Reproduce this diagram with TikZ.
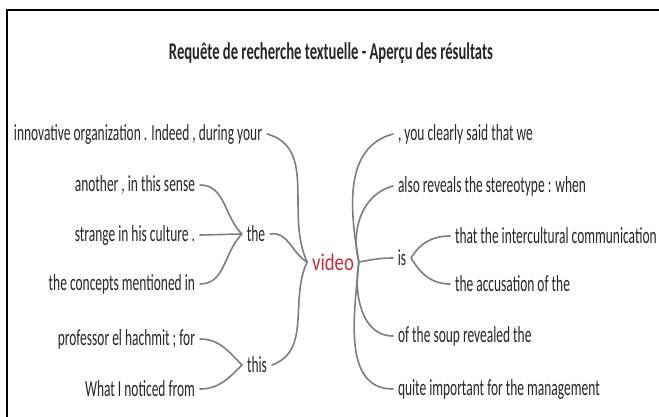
\documentclass[tikz,border=0pt]{standalone}
\usepackage{fontspec}
\setmainfont{Carlito}[FakeStretch=0.585]
\usepackage{tikz}
\usetikzlibrary{positioning}
\definecolor{hitred}{RGB}{200,45,60}
\definecolor{branchgray}{RGB}{125,125,125}
\tikzstyle{word} = [inner sep=0pt, outer sep=5pt,
    font=\fontsize{23}{25}\selectfont, text=black!85]
\tikzstyle{lword} = [word, anchor=east]
\tikzstyle{rword} = [word, anchor=west]
\tikzstyle{branch} = [draw=branchgray, line width=1.6pt, line cap=round]

\begin{document}
\begin{tikzpicture}[x=1pt, y=-1pt]
\useasboundingbox (0,0) rectangle (659,417);
\draw [line width=1.6pt] (7,417) -- (7,10) -- (659,10);

\node [word, font=\fontsize{24}{26}\selectfont\bfseries\addfontfeature{FakeStretch=0.61}] at (331,53) (title) {Requête de recherche textuelle - Aperçu des résultats};

% left side
\node [lword] at (267,134) (during) {innovative organization . Indeed , during your};
\node [lword] at (200,185) (sense) {another , in this sense};
\node [lword] at (200,235) (culture) {strange in his culture .};
\node [lword] at (200,284) (concepts) {the concepts mentioned in};
\node [lword] at (200,339) (professor) {professor el hachmit ; for};
\node [lword] at (200,389) (noticed) {What I noticed from};
\node [word] at (256,234) (the) {the};
\node [word] at (257,365) (this) {this};

% keyword
\node [word, text=hitred, font=\fontsize{24}{26}\selectfont\addfontfeature{FakeStretch=0.78}] at (333,262) (video) {video};

% right side
\node [word] at (402,258) (is) {is};
\node [rword] at (393,134) (said) {, you clearly said that we};
\node [rword] at (393,186) (reveals) {also reveals the stereotype : when};
\node [rword] at (450,236) (intercultural) {that the intercultural communication};
\node [rword] at (450,284) (accusation) {the accusation of the};
\node [rword] at (393,336) (soup) {of the soup revealed the};
\node [rword] at (393,389) (management) {quite important for the management};

\draw [branch] (sense.east) to[out=0, in=135] (the.west);
\draw [branch] (culture.east) -- (the.west);
\draw [branch] (concepts.east) to[out=0, in=-135] (the.west);
\draw [branch] (professor.east) to[out=0, in=135] (this.west);
\draw [branch] (noticed.east) to[out=0, in=-135] (this.west);

\draw [branch] (during.east) to[out=-15, in=115] (video.west);
\draw [branch] (the.east) to[out=10, in=150] (video.west);
\draw [branch] (this.east) to[out=20, in=-115] (video.west);

\draw [branch] (video.east) to[out=100, in=195] (said.west);
\draw [branch] (video.east) to[out=105, in=195] (reveals.west);
\draw [branch] (video.east) to[out=10, in=180] (is.west);
\draw [branch] (video.east) to[out=-100, in=180] (soup.west);
\draw [branch] (video.east) to[out=-95, in=180] (management.west);

\draw [branch] (is.east) to[out=60, in=180] (intercultural.west);
\draw [branch] (is.east) to[out=-60, in=180] (accusation.west);
\end{tikzpicture}
\end{document}
